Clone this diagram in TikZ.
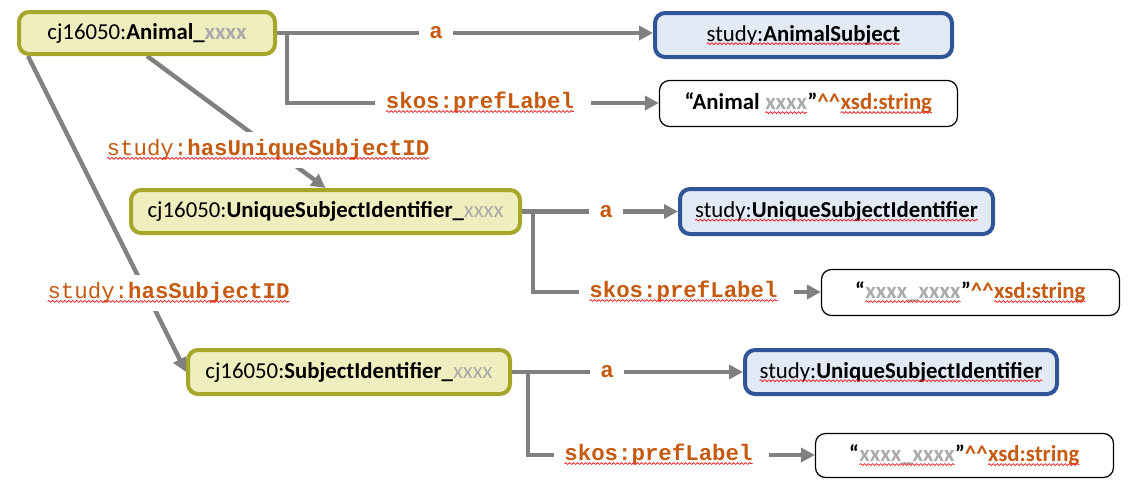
\documentclass[tikz,border=0pt]{standalone}
\usepackage{fontspec}
\setmainfont{Carlito}
\setmonofont{Liberation Mono}
\usetikzlibrary{arrows.meta,calc,backgrounds,decorations.pathmorphing}
\definecolor{olivebd}{RGB}{166,166,42}
\definecolor{olivefill}{RGB}{238,238,190}
\definecolor{bluebd}{RGB}{47,85,151}
\definecolor{bluefill}{RGB}{226,234,246}
\definecolor{lblorange}{RGB}{197,90,17}
\definecolor{linegray}{RGB}{128,128,128}
\definecolor{txtgray}{RGB}{170,170,170}
\definecolor{squigred}{RGB}{235,40,40}
\tikzset{
  sqword/.style={draw=none,fill=none,inner sep=0pt,outer sep=0pt,minimum width=0pt,minimum height=0pt,
    rounded corners=0pt,shape=rectangle,anchor=base,font=},
  sqwave/.style={draw=squigred,line width=0.4pt,fill=none,rounded corners=0pt,decorate,
    decoration={snake,amplitude=0.45pt,segment length=2pt}},
}
\newcommand\sq[1]{\tikz[baseline=(sqw.base)]{\node[sqword] (sqw) at (0,0) {#1};
  \draw[sqwave] ([yshift=-1.3pt]sqw.base west) -- ([yshift=-1.3pt]sqw.base east);}}
\newcommand{\gx}[1]{\textcolor{txtgray}{#1}}
\newcommand{\xsdstr}{\textcolor{lblorange}{\textasciicircum\textasciicircum\sq{xsd:string}}}
\begin{document}
\begin{tikzpicture}[x=0.5pt,y=-0.5pt,
  nodefont/.style={font=\fontsize{11.4}{13}\selectfont},
  inst/.style={nodefont,draw=olivebd,line width=2pt,fill=olivefill,rounded corners=5pt,inner sep=0pt},
  cls/.style={nodefont,draw=bluebd,line width=2pt,fill=bluefill,rounded corners=5pt,inner sep=0pt},
  lit/.style={nodefont,draw=black,line width=0.6pt,fill=white,rounded corners=5pt,inner sep=0pt},
  prop/.style={font=\ttfamily\bfseries\fontsize{11.2}{13}\selectfont,text=lblorange,inner xsep=5pt,inner ysep=1pt},
  diaglbl/.style={prop,fill=white,inner ysep=4pt,inner xsep=1pt},
  conn/.style={draw=linegray,line width=2.2pt},
  arr/.style={conn,-{Triangle[length=7pt,width=7pt]}},
]
\useasboundingbox (0,0) rectangle (1132,488);

% instance nodes
\node[inst,minimum width=128pt,minimum height=21pt] (animal) at (147,33) {cj16050:\textbf{Animal\_\gx{xxxx}}};
\node[inst,minimum width=194.5pt,minimum height=21.5pt] (uniq) at (325.5,211.5) {cj16050:\textbf{UniqueSubjectIdentifier\_}\gx{xxxx}};
\node[inst,minimum width=161pt,minimum height=22pt] (subj) at (349,372) {cj16050:\textbf{SubjectIdentifier\_}\gx{xxxx}};

% class nodes
\node[cls,minimum width=148.5pt,minimum height=22pt] (cls1) at (803.5,35) {\sq{study:\textbf{AnimalSubject}}};
\node[cls,minimum width=156.5pt,minimum height=22.5pt] (cls2) at (836.5,211.5) {\sq{study:\textbf{UniqueSubjectIdentifier}}};
\node[cls,minimum width=156pt,minimum height=22pt] (cls3) at (901,372) {\sq{study:\textbf{UniqueSubjectIdentifier}}};

% literal nodes
\node[lit,minimum width=149pt,minimum height=23pt] (lit1) at (808.5,103.5) {\textbf{“Animal \sq{\gx{xxxx}}”\xsdstr}};
\node[lit,minimum width=149pt,minimum height=23pt] (lit2) at (970.5,292.5) {\textbf{“\sq{\gx{xxxx\_xxxx}}”\xsdstr}};
\node[lit,minimum width=149pt,minimum height=22pt] (lit3) at (964.5,455.5) {\textbf{“\sq{\gx{xxxx\_xxxx}}”\xsdstr}};

% property labels
\node[prop] (a1) at (436,33) {a};
\node[prop] (skos1) at (480,103) {\sq{skos:prefLabel}};
\node[prop] (a2) at (606,212) {a};
\node[prop] (skos2) at (683.5,292) {\sq{skos:prefLabel}};
\node[prop] (a3) at (607,372) {a};
\node[prop] (skos3) at (658.5,455) {\sq{skos:prefLabel}};
\node[diaglbl] (hasu) at (268,150) {\sq{{\mdseries study:}hasUniqueSubjectID}};
\node[diaglbl] (hass) at (168.5,293) {\sq{{\mdseries study:}hasSubjectID}};

\begin{scope}[on background layer]
% row 1
\draw[conn] (animal.east) -- (animal.east -| a1.west);
\draw[arr] (a1.east |- animal.east) -- (animal.east -| cls1.west);
\draw[conn] ($(animal.east)+(10,0)$) |- (skos1.west);
\draw[arr] ([xshift=3pt]skos1.east) -- (skos1.east -| lit1.west);
% row 2
\draw[conn] (uniq.east) -- (uniq.east -| a2.west);
\draw[arr] (a2.east |- uniq.east) -- (uniq.east -| cls2.west);
\draw[conn] ($(uniq.east)+(11,0)$) |- (skos2.west);
\draw[arr] ([xshift=3pt]skos2.east) -- (skos2.east -| lit2.west);
% row 3
\draw[conn] (subj.east) -- (subj.east -| a3.west);
\draw[arr] (a3.east |- subj.east) -- (subj.east -| cls3.west);
\draw[conn] ($(subj.east)+(16,0)$) |- (skos3.west);
\draw[arr] ([xshift=3pt]skos3.east) -- (skos3.east -| lit3.west);
% diagonals
\draw[arr] (animal.south) -- (uniq.north);
\draw[arr] ($(animal.south west)+(11,0)$) -- (subj.west);
\end{scope}
\end{tikzpicture}
\end{document}
